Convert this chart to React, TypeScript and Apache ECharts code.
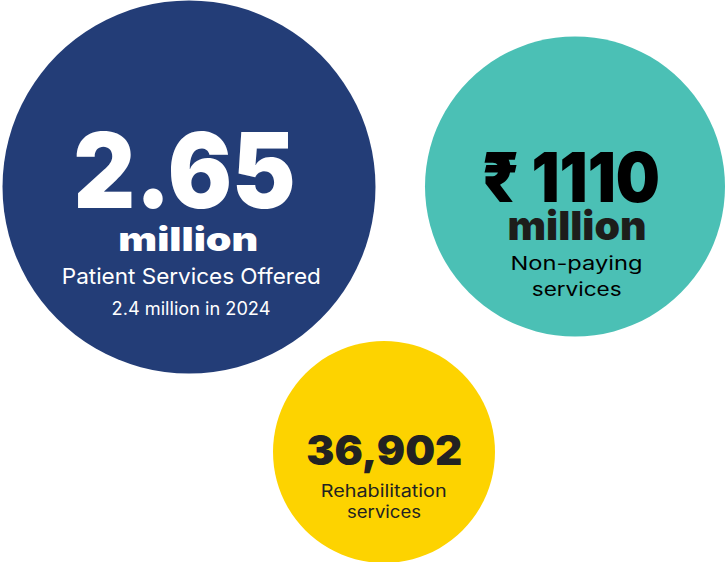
import React, { useEffect, useRef } from "react";
import * as echarts from "echarts";

// ---- data ----
const metricNames = ["Patient Services Offered", "Non-paying services", "Rehabilitation services"];
const headlineValues = ["2.65", "₹ 1110", "36,902"];
const headlineUnits = ["million", "million", ""];
const captionLines = [["Patient Services Offered"], ["Non-paying", "services"], ["Rehabilitation", "services"]];
const footnotes = ["2.4 million in 2024", "", ""];

// ---- layout / style ----
const W = 725;
const H = 562;
const centers: [number, number][] = [[189, 187], [575, 186.5], [384, 452]];
const diameters = [373, 300, 222];
const fills = ["#233d77", "#4bc0b5", "#fdd300"];
const inks = ["#ffffff", "#1d1d1b", "#222222"];
const HEAVY = "Inter, Roboto, 'Open Sans', sans-serif";
const BODY = "Inter, 'Noto Sans', sans-serif";

type Line = { text: string; x: number; y: number; size: number; weight: number; width: number; family: string; color: string };

function buildLines(): Line[] {
  const L: Line[] = [];
  // blue
  L.push({ text: headlineValues[0], x: 184.5, y: 170, size: 104, weight: 900, width: 222, family: HEAVY, color: inks[0] });
  L.push({ text: headlineUnits[0], x: 188.3, y: 239, size: 33, weight: 900, width: 140, family: HEAVY, color: inks[0] });
  L.push({ text: captionLines[0][0], x: 191.3, y: 276, size: 22, weight: 400, width: 259, family: BODY, color: inks[0] });
  L.push({ text: footnotes[0], x: 191, y: 308.5, size: 18, weight: 400, width: 159, family: BODY, color: inks[0] });
  // teal
  L.push({ text: headlineValues[1], x: 571, y: 177, size: 69, weight: 900, width: 178, family: HEAVY, color: "#000000" });
  L.push({ text: headlineUnits[1], x: 577, y: 226, size: 40, weight: 900, width: 139, family: HEAVY, color: inks[1] });
  L.push({ text: captionLines[1][0], x: 576.5, y: 263.3, size: 18.5, weight: 400, width: 132, family: BODY, color: "#000000" });
  L.push({ text: captionLines[1][1], x: 576.7, y: 289.3, size: 18.5, weight: 400, width: 90, family: BODY, color: "#000000" });
  // yellow
  L.push({ text: headlineValues[2], x: 384.3, y: 450, size: 41, weight: 900, width: 156, family: HEAVY, color: inks[2] });
  L.push({ text: captionLines[2][0], x: 383.7, y: 490.8, size: 17, weight: 400, width: 126, family: BODY, color: inks[2] });
  L.push({ text: captionLines[2][1], x: 384, y: 511.8, size: 17, weight: 400, width: 74, family: BODY, color: inks[2] });
  return L;
}

export default function App() {
  const ref = useRef<HTMLDivElement>(null);
  useEffect(() => {
    if (!ref.current) return;
    const chart = echarts.init(ref.current, undefined, { renderer: "svg" });
    const canvas = document.createElement("canvas");
    const ctx = canvas.getContext("2d")!;
    const lines = buildLines();
    const graphics = lines.map((l) => {
      const font = `${l.weight} ${l.size}px ${l.family}`;
      ctx.font = font;
      const natural = ctx.measureText(l.text).width || l.width;
      const sx = l.width / natural;
      return {
        type: "text",
        x: l.x,
        y: l.y,
        scaleX: sx,
        silent: true,
        z: 10,
        style: {
          text: l.text,
          font,
          fill: l.color,
          align: "center",
          verticalAlign: "middle",
        },
      };
    });
    chart.setOption({
      animation: false,
      grid: { left: 0, right: 0, top: 0, bottom: 0 },
      xAxis: { type: "value", min: 0, max: W, show: false },
      yAxis: { type: "value", min: 0, max: H, inverse: true, show: false },
      series: [
        {
          type: "scatter",
          symbol: "circle",
          data: metricNames.map((name, i) => ({
            name,
            value: centers[i],
            symbolSize: diameters[i],
            itemStyle: { color: fills[i], opacity: 1 },
          })),
          emphasis: { disabled: true },
          silent: true,
        },
      ],
      graphic: graphics,
    });
    return () => chart.dispose();
  }, []);
  return <div ref={ref} style={{ position: "fixed", left: 0, top: 0, width: W, height: H, background: "#ffffff" }} />;
}
